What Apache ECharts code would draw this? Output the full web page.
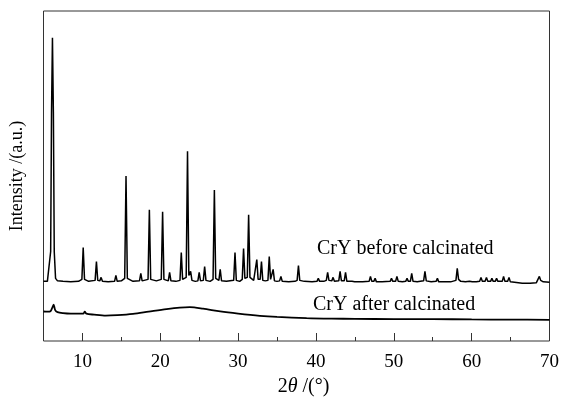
<!DOCTYPE html>
<html>
<head>
<meta charset="utf-8">
<script src="https://cdn.jsdelivr.net/npm/echarts@6/dist/echarts.min.js"></script>
<style>html,body{margin:0;padding:0;background:#fff}#c{width:562px;height:402px}</style>
</head>
<body>
<div id="c"></div>
<script>
// 2θ (degrees) vs intensity (a.u.)
const majorTicks = [10, 20, 30, 40, 50, 60, 70];
const minorTicks = [15, 25, 35, 45, 55, 65];
const labelBefore = 'CrY before calcinated';
const labelAfter = 'CrY after calcinated';

const before = [
[5.0,60],[5.5,60],[5.75,61],[5.92,90],[6.03,230],[6.15,305],[6.27,230],[6.38,90],[6.55,63],[6.8,60.5],[7.5,60],[8.5,59.5],[9.5,60],
[9.93,62],[10.1,94],[10.27,62],
[10.8,60],[11.63,61],[11.8,80],[11.97,61],
[12.23,60.5],[12.4,64],[12.57,60],
[13.3,59.5],[14.13,60],[14.3,66],[14.47,60],
[15.0,60.5],[15.43,63],[15.6,166],[15.77,63],
[16.5,60],[17.33,60.5],[17.5,68],[17.67,60.5],
[18.43,62],[18.6,132],[18.77,62],
[19.5,60.5],[20.13,62],[20.3,130],[20.47,62],
[21.03,60.5],[21.2,69],[21.37,60.5],
[22.0,60],[22.53,61],[22.7,89],[22.87,62],
[23.33,64],[23.5,191],[23.67,66],[23.8,64],[23.9,70],[24.07,61],
[24.5,60],[24.83,60.5],[25.0,69],[25.17,60.5],
[25.53,61],[25.7,75],[25.87,61],
[26.4,60],[26.78,62],[26.95,152],[27.12,63],
[27.53,61],[27.7,72],[27.87,60.5],
[28.5,60],[29.43,61],[29.6,89],[29.77,61],
[30.2,60],[30.53,62],[30.7,93],[30.87,63],
[31.18,64],[31.35,127],[31.52,64],
[32.0,61],[32.23,61],[32.4,82],[32.57,62],
[32.83,62],[33.0,80],[33.17,61],
[33.5,60.5],[33.83,61],[34.0,85],[34.17,62],[34.33,62],[34.5,72],[34.67,60.5],
[35.0,60],[35.33,60.5],[35.5,65],[35.67,60],
[36.5,59.5],[37.3,60],[37.58,61],[37.75,76],[37.92,61],
[38.5,60],[39.5,59.5],[40.13,60],[40.3,63],[40.47,60],
[41.0,60],[41.33,61],[41.5,69],[41.67,61],[42.03,60.5],[42.2,64],[42.37,60],
[42.93,60.5],[43.1,70],[43.27,60.5],[43.63,60.5],[43.8,69],[43.97,60],
[44.63,60],[44.8,62],[44.97,59.5],
[46.0,59.5],[46.83,60],[47.0,65],[47.17,60],[47.43,60],[47.6,63],[47.77,59.5],
[48.5,59.5],[49.53,60],[49.7,63],[49.87,60],[50.23,60],[50.4,65],[50.57,60],
[51.1,59.5],[51.53,60],[51.7,63],[51.87,60],[52.13,60],[52.3,68],[52.47,60],
[53.0,59.5],[53.83,60.5],[54.0,70],[54.17,60.5],
[54.8,59.5],[55.43,60],[55.6,63],[55.77,59.5],
[56.5,59.5],[57.3,59.5],[57.98,61],[58.15,73],[58.32,62],[58.45,61],[58.6,60],
[59.2,59.5],[59.73,60],[59.9,62],[60.07,59.5],
[60.6,59.5],[61.03,60],[61.2,64],[61.37,60],[61.73,60],[61.9,64],[62.07,60],
[62.43,60],[62.6,63],[62.77,60],[63.03,60],[63.2,63],[63.37,60],
[63.93,60],[64.1,65],[64.27,60],[64.63,60],[64.8,64],[64.97,59.5],
[65.5,59],[66.5,58],[67.5,58],[68.3,58.5],[68.53,60],[68.7,65],[68.87,61],[69.2,59.5],[70,59]
];

const after = [
[5.0,29.7],[5.5,29.5],[5.9,30],[6.1,33],[6.3,36.5],[6.5,31],[6.8,29],[7.5,28],[8.5,27.5],[9.5,27.5],
[10.1,27.5],[10.3,29.5],[10.5,27.5],[11.5,26.5],[13.0,25.5],[14.5,26],[16.5,27.3],[18.5,29.5],
[20.8,32],[22.5,33.5],[23.8,34],[25.5,32.5],[27.7,29.7],[30,27.5],[32.8,25.3],[35,24.2],[38.8,23],
[42,22.5],[45,22.3],[50,22],[55,22],[60,21.7],[65,21.5],[70,21.3]
];

const FONT = '"Liberation Serif", "Times New Roman", serif';
const chart = echarts.init(document.getElementById('c'), null, {renderer: 'canvas'});
chart.setOption({
  animation: false,
  backgroundColor: '#fff',
  grid: {left: 43.5, right: 12.5, top: 11, bottom: 59, show: true, borderColor: '#333', borderWidth: 1, backgroundColor: 'transparent'},
  xAxis: [{
    type: 'value', min: 5, max: 70,
    axisLine: {show: false},
    axisTick: {show: true, inside: true, length: 8, customValues: majorTicks, lineStyle: {color: '#333', width: 1}},
    axisLabel: {customValues: majorTicks, color: '#000', fontFamily: FONT, fontSize: 19, margin: 12},
    splitLine: {show: false},
    name: '{n|2}{i|θ}{n| /(°)}',
    nameLocation: 'middle', nameGap: 36,
    nameTextStyle: {padding: [0, 0, 0, 14], rich: {
      n: {fontFamily: FONT, fontSize: 20, color: '#000'},
      i: {fontFamily: FONT, fontSize: 20, fontStyle: 'italic', color: '#000'}
    }}
  }, {
    type: 'value', min: 5, max: 70, position: 'bottom',
    axisLine: {show: false},
    axisTick: {show: true, inside: true, length: 4, customValues: minorTicks, lineStyle: {color: '#333', width: 1}},
    axisLabel: {show: false},
    splitLine: {show: false}
  }],
  yAxis: {
    type: 'value', min: 0, max: 332,
    axisLine: {show: false}, axisTick: {show: false}, axisLabel: {show: false}, splitLine: {show: false},
    name: 'Intensity /(a.u.)', nameLocation: 'middle', nameGap: 17,
    nameTextStyle: {fontFamily: FONT, fontSize: 18, color: '#000', padding: [0, 0, 0, 0]}
  },
  series: [{
    name: labelBefore, type: 'line', data: before, xAxisIndex: 0,
    showSymbol: false, symbol: 'none', lineStyle: {color: '#000', width: 1.5}
  }, {
    name: labelAfter, type: 'line', data: after, xAxisIndex: 0, smooth: 0.3,
    showSymbol: false, symbol: 'none', lineStyle: {color: '#000', width: 1.8}
  }],
  graphic: [
    {type: 'text', x: 317, y: 249, style: {text: labelBefore, font: '20px ' + FONT, fill: '#000', verticalAlign: 'middle'}},
    {type: 'text', x: 313, y: 305, style: {text: labelAfter, font: '20px ' + FONT, fill: '#000', verticalAlign: 'middle'}}
  ]
});
</script>
</body>
</html>
